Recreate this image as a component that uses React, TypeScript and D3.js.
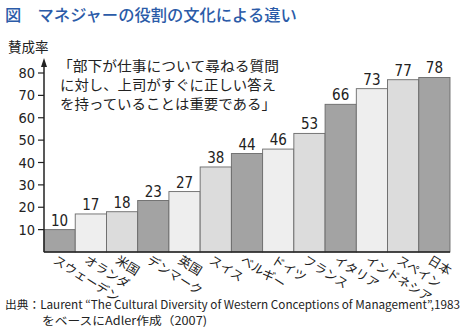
import React from "react";
import * as d3 from "d3";

const countries = ["スウェーデン", "オランダ", "米国", "デンマーク", "英国", "スイス", "ベルギー", "ドイツ", "フランス", "イタリア", "インドネシア", "スペイン", "日本"];
const values = [10, 17, 18, 23, 27, 38, 44, 46, 53, 66, 73, 77, 78];
const yTicks = [10, 20, 30, 40, 50, 60, 70, 80];
const quoteLines = ["「部下が仕事について尋ねる質問", "に対し、上司がすぐに正しい答え", "を持っていることは重要である」"];
const title = "図　マネジャーの役割の文化による違い";
const yLabel = "賛成率";
const sourceLines = ["出典：Laurent “The Cultural Diversity of Western Conceptions of Management”,1983", "をベースにAdler作成（2007)"];
const fills = ["#a3a3a3", "#eeeeee", "#dcdcdc"];

const JP = "'Noto Sans CJK JP', 'Noto Sans', sans-serif";
const NUM = "'Liberation Sans Narrow', 'DejaVu Sans Condensed', 'Liberation Sans', sans-serif";

export default function App() {
  const W = 463, H = 331;
  const x = d3.scaleBand<string>().domain(countries).range([44, 450]).padding(0);
  const y = d3.scaleLinear().domain([0, 80]).range([252, 73]);
  const angle = 32;
  return (
    <svg width={W} height={H} style={{ position: "absolute", left: 0, top: 0, background: "#fff" }}>
      <text x={5} y={21} fontFamily={JP} fontSize={16.3} fontWeight={500} fill="#2b5ba8">{title}</text>
      <text x={8} y={52} fontFamily={JP} fontSize={13.5} fill="#222">{yLabel}</text>
      {quoteLines.map((l, i) => (
        <text key={i} x={i === 0 ? 58 : 60} y={71 + i * 19} fontFamily={JP} fontSize={13.9} fill="#222"
          textLength={i === 0 ? 221 : 216} lengthAdjust="spacingAndGlyphs">{l}</text>
      ))}
      {countries.map((c, i) => (
        <rect key={c} x={x(c)!} y={y(values[i])} width={x.bandwidth()} height={y(0) - y(values[i])}
          fill={fills[i % 3]} stroke="#6a6a6a" strokeWidth={0.9} />
      ))}
      {countries.map((c, i) => (
        <text key={c} x={x(c)! + x.bandwidth() / 2} y={y(values[i]) - 4} textAnchor="middle"
          fontFamily={NUM} fontSize={15} fill="#222">{values[i]}</text>
      ))}
      <line x1={44} x2={450} y1={252} y2={252} stroke="#222" strokeWidth={1.5} />
      <line x1={44} x2={44} y1={252} y2={62} stroke="#222" strokeWidth={1.5} />
      <path d="M44,58 L41,67 L47,67 Z" fill="#222" />
      {yTicks.map(t => (
        <g key={t}>
          <line x1={38} x2={44} y1={y(t)} y2={y(t)} stroke="#222" strokeWidth={1.2} />
          <text x={35} y={y(t)} dy="0.35em" textAnchor="end" fontFamily={NUM} fontSize={14.5} fill="#222">{t}</text>
        </g>
      ))}
      {countries.map(c => (
        <text key={c} transform={`translate(${x(c)! + x.bandwidth() / 2},262) rotate(${angle})`} x={-6} dy="0.35em"
          fontFamily={JP} fontSize={12.5} fill="#222">{c}</text>
      ))}
      <text x={5} y={309} fontFamily={JP} fontSize={11.5} fill="#222" textLength={455} lengthAdjust="spacingAndGlyphs">{sourceLines[0]}</text>
      <text x={42} y={325} fontFamily={JP} fontSize={11.5} fill="#222" textLength={165} lengthAdjust="spacingAndGlyphs">{sourceLines[1]}</text>
    </svg>
  );
}
